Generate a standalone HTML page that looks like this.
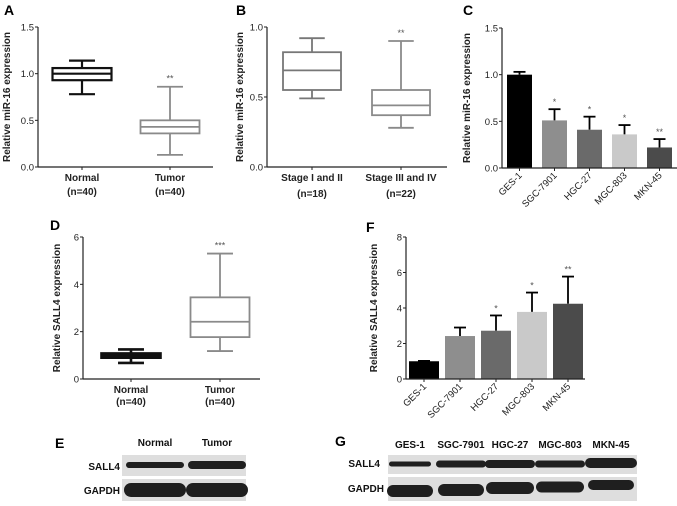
<!DOCTYPE html>
<html><head><meta charset="utf-8"><style>
html,body{margin:0;padding:0;background:#fff;}
svg{display:block;font-family:"Liberation Sans",Arial,sans-serif;}
</style></head><body>
<svg id="fig" width="677" height="506" viewBox="0 0 677 506" xmlns="http://www.w3.org/2000/svg">
<g font-weight="bold" font-size="14">
<text x="4" y="15">A</text>
<text x="236" y="15">B</text>
<text x="463" y="15">C</text>
<text x="50" y="230">D</text>
<text x="366" y="232">F</text>
<text x="55" y="448">E</text>
<text x="335" y="446">G</text>
</g>
<g id="blots"></g>
</svg>
<script>
// Panel A data
const aCats=["Normal","Tumor"], aN=["(n=40)","(n=40)"];
const aMax=[1.14,0.86], aQ3=[1.06,0.50], aMed=[1.00,0.43], aQ1=[0.93,0.36], aMin=[0.78,0.13];
const aTicks=[0,0.5,1.0,1.5], aTickLabels=["0.0","0.5","1.0","1.5"], aSig=["","**"];
// Panel B data
const bCats=["Stage I and II","Stage III and IV"], bN=["(n=18)","(n=22)"];
const bMax=[0.92,0.90], bQ3=[0.82,0.55], bMed=[0.69,0.44], bQ1=[0.55,0.37], bMin=[0.49,0.28];
const bTicks=[0,0.5,1.0], bTickLabels=["0.0","0.5","1.0"], bSig=["","**"];
// Panel C data
const cCats=["GES-1","SGC-7901","HGC-27","MGC-803","MKN-45"];
const cVals=[1.0,0.51,0.41,0.36,0.22], cErr=[0.03,0.12,0.14,0.10,0.09];
const cTicks=[0,0.5,1.0,1.5], cTickLabels=["0.0","0.5","1.0","1.5"], cSig=["","*","*","*","**"];
// Panel D data
const dCats=["Normal","Tumor"], dN=["(n=40)","(n=40)"];
const dMax=[1.25,5.3], dQ3=[1.08,3.45], dMed=[0.98,2.42], dQ1=[0.9,1.77], dMin=[0.68,1.18];
const dTicks=[0,2,4,6], dTickLabels=["0","2","4","6"], dSig=["","***"];
// Panel F data
const fCats=["GES-1","SGC-7901","HGC-27","MGC-803","MKN-45"];
const fVals=[1.0,2.42,2.72,3.78,4.24], fErr=[0.02,0.48,0.86,1.09,1.53];
const fTicks=[0,2,4,6,8], fTickLabels=["0","2","4","6","8"], fSig=["","","*","*","**"];
const barColors=["#000","#8e8e8e","#6a6a6a","#c9c9c9","#4b4b4b"];

const NS="http://www.w3.org/2000/svg", svg=document.getElementById('fig');
function mk(tag,attrs,parent,txt){const e=document.createElementNS(NS,tag);for(const k in attrs)e.setAttribute(k,attrs[k]);if(txt!==undefined)e.textContent=txt;(parent||svg).appendChild(e);return e;}

function axes(g,o,ticks,labels,yfn,title){
  mk('line',{x1:o.x0,y1:o.yTop,x2:o.x0,y2:o.y0,stroke:'#222','stroke-width':1.2},g);
  mk('line',{x1:o.x0,y1:o.y0,x2:o.x1,y2:o.y0,stroke:'#222','stroke-width':1.2},g);
  ticks.forEach((t,i)=>{const y=yfn(t);
    mk('line',{x1:o.x0-3,y1:y,x2:o.x0,y2:y,stroke:'#222'},g);
    const tl=mk('text',{x:o.x0-4,y:y+3.5,'text-anchor':'end','font-size':9.5,fill:'#222'},g,labels[i]);
    
    
  });
  const tt=mk('text',{transform:`translate(${o.tx},${(o.yTop+o.y0)/2}) rotate(-90)`,'text-anchor':'middle','font-size':10,'font-weight':'bold',fill:'#222'},g,title);
  
  
}

function boxPanel(name,o,cats,ns,mx,q3,md,q1,mn,ticks,labels,sig,title,cols){
  const g=mk('g',{});
  
  
  const yfn=v=>o.y0-(v-ticks[0])/(ticks[ticks.length-1]-ticks[0])*(o.y0-o.yTop);
  axes(g,o,ticks,labels,yfn,title);
  cats.forEach((c,i)=>{
    const cx=o.cx[i],w=o.bw,col=cols[i],sw=o.sw[i];
    const bg=mk('g',{stroke:col,'stroke-width':sw,fill:'none'},g);
    
    
    mk('line',{x1:cx,y1:yfn(mx[i]),x2:cx,y2:yfn(q3[i])},bg);
    mk('line',{x1:cx,y1:yfn(q1[i]),x2:cx,y2:yfn(mn[i])},bg);
    mk('line',{x1:cx-w*0.22,y1:yfn(mx[i]),x2:cx+w*0.22,y2:yfn(mx[i])},bg);
    mk('line',{x1:cx-w*0.22,y1:yfn(mn[i]),x2:cx+w*0.22,y2:yfn(mn[i])},bg);
    mk('rect',{x:cx-w/2,y:yfn(q3[i]),width:w,height:yfn(q1[i])-yfn(q3[i])},bg);
    mk('line',{x1:cx-w/2,y1:yfn(md[i]),x2:cx+w/2,y2:yfn(md[i])},bg);
    mk('line',{x1:cx,y1:o.y0,x2:cx,y2:o.y0+3,stroke:'#222','stroke-width':1},g);
    const l=mk('text',{x:cx,y:o.y0+14,'text-anchor':'middle','font-size':10,'font-weight':'bold',fill:'#222'},g,c);
    
    
    const n=mk('text',{x:cx,y:o.y0+o.nOff,'text-anchor':'middle','font-size':10,'font-weight':'bold',fill:'#222'},g,ns[i]);
    
    
    if(sig[i]){const s=mk('text',{x:cx,y:yfn(mx[i])-5,'text-anchor':'middle','font-size':9,fill:'#555'},g,sig[i]);
      
      }
  });
}

function barPanel(name,o,cats,vals,errs,ticks,labels,sig,title){
  const g=mk('g',{});
  
  
  const yfn=v=>o.y0-(v-ticks[0])/(ticks[ticks.length-1]-ticks[0])*(o.y0-o.yTop);
  const xfn=i=>o.x0+o.pad+i*o.band+o.band/2;
  cats.forEach((c,i)=>{
    const cx=xfn(i),top=yfn(vals[i]),et=yfn(vals[i]+errs[i]);
    mk('line',{x1:cx,y1:top,x2:cx,y2:et,stroke:'#000','stroke-width':1.8},g);
    mk('line',{x1:cx-6,y1:et,x2:cx+6,y2:et,stroke:'#000','stroke-width':1.8},g);
    const r=mk('rect',{x:cx-o.bw/2,y:top,width:o.bw,height:o.y0-top,fill:barColors[i]},g);
    
    
    mk('line',{x1:cx,y1:o.y0,x2:cx,y2:o.y0+3,stroke:'#222'},g);
    const l=mk('text',{transform:`translate(${cx+3},${o.y0+8}) rotate(-45)`,'text-anchor':'end','font-size':9.5,fill:'#222'},g,c);
    
    
    if(sig[i]){const s=mk('text',{x:cx,y:et-4,'text-anchor':'middle','font-size':9,fill:'#555'},g,sig[i]);
      
      }
  });
  axes(g,o,ticks,labels,yfn,title);
}

boxPanel('panel-a-boxplot',{x0:38,x1:213,yTop:27,y0:167,tx:10,cx:[82,170],bw:59,sw:[2.2,1.8],nOff:28},
  aCats,aN,aMax,aQ3,aMed,aQ1,aMin,aTicks,aTickLabels,aSig,'Relative miR-16 expression',['#111','#8a8a8a']);
boxPanel('panel-b-boxplot',{x0:267,x1:447,yTop:27,y0:167,tx:243,cx:[312,401],bw:58,sw:[1.8,1.8],nOff:30},
  bCats,bN,bMax,bQ3,bMed,bQ1,bMin,bTicks,bTickLabels,bSig,'Relative miR-16 expression',['#777','#8a8a8a']);
barPanel('panel-c-barchart',{x0:502,x1:677,yTop:28,y0:168,tx:470,pad:0,band:35,bw:25},
  cCats,cVals,cErr,cTicks,cTickLabels,cSig,'Relative miR-16 expression');
boxPanel('panel-d-boxplot',{x0:83,x1:260,yTop:237,y0:379,tx:60,cx:[131,220],bw:59,sw:[2.6,1.8],nOff:26},
  dCats,dN,dMax,dQ3,dMed,dQ1,dMin,dTicks,dTickLabels,dSig,'Relative SALL4 expression',['#111','#8a8a8a']);
barPanel('panel-f-barchart',{x0:406,x1:585,yTop:237,y0:379,tx:377,pad:0,band:36,bw:30},
  fCats,fVals,fErr,fTicks,fTickLabels,fSig,'Relative SALL4 expression');

// Western blots
const bl=document.getElementById('blots');
function blot(name,x,y,w,h,bands){
  const g=mk('g',{},bl);
  
  
  mk('rect',{x:x,y:y,width:w,height:h,fill:'#dedede'},g);
  bands.forEach(b=>mk('rect',{x:b[0]-b[2],y:b[1]-b[3],width:2*b[2],height:2*b[3],rx:b[3],fill:'#1f1f1f'},g));
}
function lbl(name,x,y,t,anchor,size){const e=mk('text',{x:x,y:y,'text-anchor':anchor,'font-size':size||10,'font-weight':'bold',fill:'#111'},bl,t);
  
  }
lbl('e-header-normal',155,446,'Normal','middle');
lbl('e-header-tumor',217,446,'Tumor','middle');
lbl('e-row-sall4',120,470,'SALL4','end');
lbl('e-row-gapdh',120,494,'GAPDH','end');
blot('e-blot-sall4',122,455,124,21,[[155,465,29,3],[217,465,29,4]]);
blot('e-blot-gapdh',122,479,124,22,[[155,490,31,7],[217,490,31,7]]);
const gHeads=["GES-1","SGC-7901","HGC-27","MGC-803","MKN-45"];
const gx=[410,461,510,560,611];
gHeads.forEach((h,i)=>lbl('g-header',gx[i],448,h,'middle'));
lbl('g-row-sall4',380,467,'SALL4','end');
lbl('g-row-gapdh',384,492,'GAPDH','end');
blot('g-blot-sall4',388,455,249,19,[[410,464,21,2.5],[461,464,25,3.5],[510,464,25,4],[560,464,25,3.5],[611,463,26,5]]);
blot('g-blot-gapdh',388,477,249,24,[[410,491,23,6],[461,490,23,6],[510,488,24,6],[560,487,24,5.5],[611,485,23,5]]);
</script>
</body></html>
